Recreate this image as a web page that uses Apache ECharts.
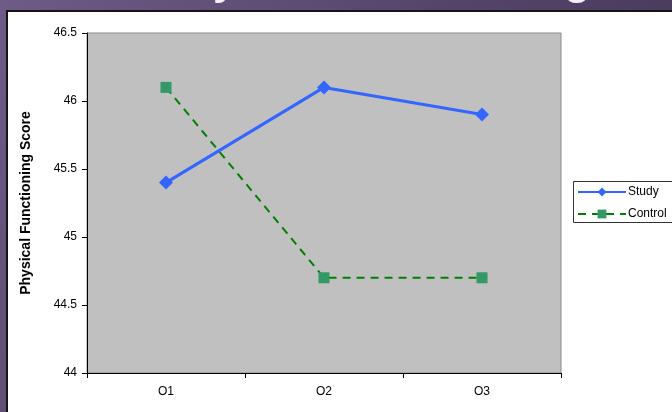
<!DOCTYPE html>
<html>
<head>
<meta charset="utf-8">
<script src="https://cdn.jsdelivr.net/npm/echarts@6/dist/echarts.min.js"></script>
<style>
  html, body { margin: 0; padding: 0; }
  #chart { width: 672px; height: 412px; }
</style>
</head>
<body>
<div id="chart"></div>
<script>
// Observation points and mean scores per group
const categories = ['O1', 'O2', 'O3'];
const studyScores = [45.4, 46.1, 45.9];
const controlScores = [46.1, 44.7, 44.7];
const yTicks = { min: 44, max: 46.5, step: 0.5 };
const seriesNames = ['Study', 'Control'];
const slideTitle = 'Physical Functioning';
const axisTitle = 'Physical Functioning Score';

const chart = echarts.init(document.getElementById('chart'), null, { renderer: 'canvas' });

const option = {
  animation: false,
  graphic: [
    {
      type: 'rect', z: -30, silent: true,
      shape: { x: 0, y: 0, width: 672, height: 412 },
      style: {
        fill: new echarts.graphic.LinearGradient(0, 0, 1, 1, [
          { offset: 0, color: '#6e5b86' },
          { offset: 0.5, color: '#54446a' },
          { offset: 1, color: '#3f3450' }
        ])
      }
    },
    {
      type: 'text', z: -20, silent: true,
      style: {
        x: 158, y: 4, text: slideTitle,
        font: 'bold 43px Arial, "Liberation Sans", sans-serif',
        fill: '#f4f0fa', align: 'left', verticalAlign: 'bottom'
      }
    },
    {
      type: 'rect', z: -10, silent: true,
      shape: { x: 7, y: 11, width: 700, height: 430 },
      style: { fill: '#ffffff', stroke: '#151515', lineWidth: 2 }
    },
    {
      // legend frame, running past the right edge
      type: 'rect', z: -5, silent: true,
      shape: { x: 573.5, y: 181.5, width: 200, height: 41 },
      style: { fill: '#ffffff', stroke: '#333333', lineWidth: 1 }
    }
  ],
  legend: {
    left: 573, top: 182,
    orient: 'vertical',
    data: seriesNames,
    borderWidth: 0,
    padding: [4, 4, 4, 4],
    itemWidth: 48, itemHeight: 11, itemGap: 10,
    textStyle: { color: '#000', fontSize: 12, fontFamily: 'Arial, "Liberation Sans", sans-serif', padding: [0, 0, 0, -3] }
  },
  grid: {
    left: 87, top: 33, right: 111, bottom: 39,
    show: true,
    backgroundColor: '#c0c0c0',
    borderColor: '#8a8a8a',
    borderWidth: 1
  },
  xAxis: {
    type: 'category',
    data: categories,
    boundaryGap: true,
    axisLine: { lineStyle: { color: '#000', width: 1 } },
    axisTick: { show: true, alignWithLabel: false, length: 5, lineStyle: { color: '#000' } },
    axisLabel: { color: '#000', fontSize: 12, margin: 13, fontFamily: 'Arial, "Liberation Sans", sans-serif' },
    splitLine: { show: false }
  },
  yAxis: {
    type: 'value',
    min: yTicks.min, max: yTicks.max, interval: yTicks.step,
    name: axisTitle,
    nameLocation: 'middle',
    nameGap: 54,
    nameTextStyle: { color: '#000', fontSize: 14, fontWeight: 'bold', fontFamily: 'Arial, "Liberation Sans", sans-serif' },
    axisLine: { show: true, lineStyle: { color: '#000', width: 1 } },
    axisTick: { show: true, length: 5, lineStyle: { color: '#000' } },
    axisLabel: { color: '#000', fontSize: 12, margin: 10, fontFamily: 'Arial, "Liberation Sans", sans-serif' },
    splitLine: { show: false }
  },
  series: [
    {
      name: seriesNames[0],
      type: 'line',
      data: studyScores,
      symbol: 'diamond',
      symbolSize: 14,
      itemStyle: { color: '#3366ff' },
      lineStyle: { color: '#3366ff', width: 3 }
    },
    {
      name: seriesNames[1],
      type: 'line',
      data: controlScores,
      symbol: 'rect',
      symbolSize: 11,
      itemStyle: { color: '#339966' },
      lineStyle: { color: '#008000', width: 2, type: [8, 6] }
    }
  ]
};

chart.setOption(option);
</script>
</body>
</html>
